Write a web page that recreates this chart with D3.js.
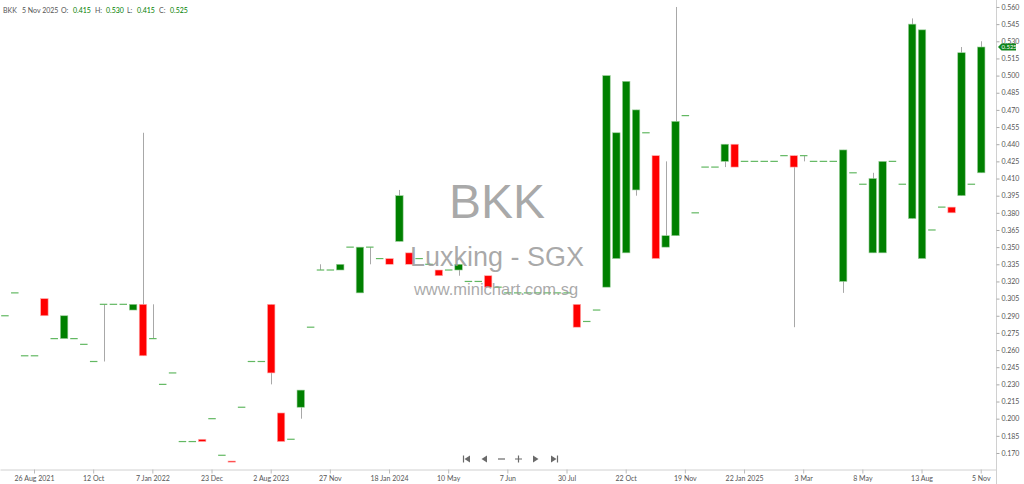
<!DOCTYPE html>
<html>
<head>
<meta charset="utf-8">
<script src="https://cdn.jsdelivr.net/npm/d3@7"></script>
<style>
  body { margin: 0; background: #fff; }
  svg { display: block; font-family: "Lato", "Liberation Sans", sans-serif; }
</style>
</head>
<body>
<div class="candle-chart"></div>
<script>
// one entry per traded session, oldest first
const dates = [
  "2021-08-10", "2021-08-16", "2021-08-20", "2021-08-26", "2021-09-01", "2021-09-08", "2021-09-15", "2021-09-22", "2021-10-04", "2021-10-12",
  "2021-10-21", "2021-11-03", "2021-11-17", "2021-12-02", "2021-12-20", "2022-01-07", "2022-02-14", "2022-03-22", "2022-05-11", "2022-07-06",
  "2022-09-13", "2022-12-23", "2023-02-15", "2023-04-10", "2023-06-05", "2023-07-12", "2023-07-25", "2023-08-02", "2023-08-16", "2023-09-04",
  "2023-09-21", "2023-10-10", "2023-10-30", "2023-11-27", "2023-12-07", "2023-12-19", "2023-12-28", "2024-01-05", "2024-01-11", "2024-01-18",
  "2024-01-26", "2024-02-07", "2024-02-26", "2024-03-14", "2024-04-02", "2024-05-10", "2024-05-15", "2024-05-21", "2024-05-24", "2024-05-29",
  "2024-06-03", "2024-06-07", "2024-06-13", "2024-06-19", "2024-06-26", "2024-07-04", "2024-07-15", "2024-07-30", "2024-08-13", "2024-08-27",
  "2024-09-10", "2024-09-26", "2024-10-01", "2024-10-22", "2024-10-28", "2024-11-01", "2024-11-06", "2024-11-11", "2024-11-14", "2024-11-19",
  "2024-11-27", "2024-12-05", "2024-12-16", "2024-12-30", "2025-01-09", "2025-01-22", "2025-01-31", "2025-02-10", "2025-02-18", "2025-02-25",
  "2025-02-28", "2025-03-03", "2025-03-14", "2025-03-27", "2025-04-09", "2025-04-22", "2025-04-30", "2025-05-08", "2025-05-20", "2025-06-04",
  "2025-06-18", "2025-07-03", "2025-07-22", "2025-08-13", "2025-08-28", "2025-09-15", "2025-09-30", "2025-10-14", "2025-10-24", "2025-11-05"
];

const opens = [
  0.29, 0.31, 0.255, 0.255, 0.305, 0.27, 0.27, 0.27, 0.265, 0.25,
  0.30, 0.30, 0.30, 0.295, 0.30, 0.27, 0.23, 0.24, 0.18, 0.18,
  0.182, 0.20, 0.168, 0.163, 0.21, 0.25, 0.25, 0.30, 0.205, 0.182,
  0.21, 0.28, 0.33, 0.33, 0.33, 0.35, 0.31, 0.35, 0.34, 0.34,
  0.355, 0.345, 0.34, 0.335, 0.33, 0.33, 0.33, 0.32, 0.32, 0.325,
  0.315, 0.31, 0.31, 0.31, 0.31, 0.31, 0.31, 0.31, 0.30, 0.285,
  0.295, 0.315, 0.34, 0.345, 0.40, 0.45, 0.43, 0.35, 0.36, 0.465,
  0.38, 0.42, 0.42, 0.425, 0.44, 0.425, 0.425, 0.425, 0.425, 0.43,
  0.43, 0.43, 0.425, 0.425, 0.425, 0.32, 0.415, 0.405, 0.345, 0.345,
  0.425, 0.405, 0.375, 0.34, 0.365, 0.385, 0.385, 0.395, 0.405, 0.415
];

const highs = [
  0.29, 0.31, 0.255, 0.255, 0.305, 0.27, 0.29, 0.27, 0.265, 0.25,
  0.30, 0.30, 0.30, 0.30, 0.45, 0.30, 0.23, 0.24, 0.18, 0.18,
  0.182, 0.20, 0.168, 0.163, 0.21, 0.25, 0.25, 0.30, 0.205, 0.182,
  0.225, 0.28, 0.335, 0.33, 0.335, 0.35, 0.35, 0.35, 0.34, 0.34,
  0.40, 0.345, 0.34, 0.335, 0.33, 0.33, 0.335, 0.32, 0.32, 0.325,
  0.315, 0.31, 0.31, 0.31, 0.31, 0.31, 0.31, 0.31, 0.30, 0.285,
  0.295, 0.50, 0.45, 0.495, 0.47, 0.45, 0.43, 0.425, 0.56, 0.465,
  0.38, 0.42, 0.42, 0.44, 0.44, 0.425, 0.425, 0.425, 0.425, 0.43,
  0.43, 0.43, 0.425, 0.425, 0.425, 0.435, 0.415, 0.405, 0.415, 0.425,
  0.425, 0.405, 0.55, 0.54, 0.365, 0.385, 0.385, 0.525, 0.405, 0.53
];

const lows = [
  0.29, 0.31, 0.255, 0.255, 0.29, 0.27, 0.27, 0.27, 0.265, 0.25,
  0.25, 0.30, 0.30, 0.295, 0.255, 0.27, 0.23, 0.24, 0.18, 0.18,
  0.18, 0.20, 0.168, 0.162, 0.21, 0.25, 0.25, 0.23, 0.18, 0.182,
  0.20, 0.28, 0.33, 0.33, 0.33, 0.35, 0.31, 0.335, 0.34, 0.335,
  0.355, 0.335, 0.34, 0.335, 0.325, 0.33, 0.325, 0.32, 0.32, 0.315,
  0.315, 0.31, 0.31, 0.31, 0.31, 0.31, 0.31, 0.31, 0.28, 0.285,
  0.295, 0.315, 0.34, 0.345, 0.395, 0.45, 0.34, 0.35, 0.36, 0.465,
  0.38, 0.42, 0.42, 0.42, 0.42, 0.425, 0.425, 0.425, 0.425, 0.43,
  0.28, 0.425, 0.425, 0.425, 0.425, 0.31, 0.415, 0.405, 0.345, 0.345,
  0.425, 0.405, 0.375, 0.34, 0.365, 0.385, 0.38, 0.395, 0.405, 0.415
];

const closes = [
  0.29, 0.31, 0.255, 0.255, 0.29, 0.27, 0.29, 0.27, 0.265, 0.25,
  0.30, 0.30, 0.30, 0.30, 0.255, 0.27, 0.23, 0.24, 0.18, 0.18,
  0.18, 0.20, 0.168, 0.162, 0.21, 0.25, 0.25, 0.24, 0.18, 0.182,
  0.225, 0.28, 0.33, 0.33, 0.335, 0.35, 0.35, 0.35, 0.34, 0.335,
  0.395, 0.335, 0.34, 0.335, 0.325, 0.33, 0.335, 0.32, 0.32, 0.315,
  0.315, 0.31, 0.31, 0.31, 0.31, 0.31, 0.31, 0.31, 0.28, 0.285,
  0.295, 0.50, 0.45, 0.495, 0.47, 0.45, 0.34, 0.36, 0.46, 0.465,
  0.38, 0.42, 0.42, 0.44, 0.42, 0.425, 0.425, 0.425, 0.425, 0.43,
  0.42, 0.43, 0.425, 0.425, 0.425, 0.435, 0.415, 0.405, 0.41, 0.425,
  0.425, 0.405, 0.545, 0.54, 0.365, 0.385, 0.38, 0.52, 0.405, 0.525
];

const xTickDates = [
  "2021-08-26", "2021-10-12", "2022-01-07", "2022-12-23", "2023-08-02", "2023-11-27",
  "2024-01-18", "2024-05-10", "2024-06-07", "2024-07-30", "2024-10-22", "2024-11-19",
  "2025-01-22", "2025-03-03", "2025-05-08", "2025-08-13", "2025-11-05"
];

const yTicks = [
  0.170, 0.185, 0.200, 0.215, 0.230, 0.245, 0.260, 0.275, 0.290, 0.305, 0.320, 0.335, 0.350, 0.365,
  0.380, 0.395, 0.410, 0.425, 0.440, 0.455, 0.470, 0.485, 0.500, 0.515, 0.530, 0.545, 0.560
];

const symbol = "BKK";
const companyName = "Luxking - SGX";
const siteName = "www.minichart.com.sg";

const width = 1024;
const height = 484;
const plotRight = 996;
const plotBottom = 469;

const up = "#008000";
const down = "#ff0000";
const dojiColor = "#62b862";
const wickColor = "#a8a8a8";
const axisColor = "#d0d0d0";
const labelColor = "#555";

const parse = d3.timeParse("%Y-%m-%d");
const fmt3 = d3.format(".3f");
const data = dates.map((d, i) => ({
  date: d, o: opens[i], h: highs[i], l: lows[i], c: closes[i]
}));

const svg = d3
  .select(".candle-chart")
  .append("svg")
  .attr("width", width)
  .attr("height", height);

// 100 sessions plus one empty slot on the right
const x = d3
  .scaleBand()
  .domain(dates)
  .range([0, plotRight])
  .paddingInner(0)
  .paddingOuter(0.5)
  .align(0);

const y = d3.scaleLinear().domain([0.156, 0.5661]).range([plotBottom, 0]);

const cx = d => x(d.date) + x.bandwidth() / 2;
const bodyW = x.bandwidth() * 0.76;

svg.append("line")
  .attr("x1", plotRight + 0.5).attr("x2", plotRight + 0.5)
  .attr("y1", 0).attr("y2", height)
  .attr("stroke", axisColor);

const yAxis = g =>
  g.attr("transform", `translate(${plotRight + 0.5},0)`)
    .call(d3.axisRight(y).tickValues(yTicks).tickFormat(fmt3).tickSize(3).tickPadding(2))
    .call(g => g.select(".domain").remove())
    .call(g => g.selectAll(".tick line").attr("stroke", "#aaa"))
    .call(g => g.selectAll(".tick text").attr("fill", labelColor).attr("font-size", 7).attr("font-family", "Lato"));

let prevYear = null;
const xFmt = d => {
  const dt = parse(d);
  const yr = dt.getFullYear();
  const s = yr !== prevYear ? d3.timeFormat("%-d %b %Y")(dt) : d3.timeFormat("%-d %b")(dt);
  prevYear = yr;
  return s;
};

const xAxis = g =>
  g.attr("transform", `translate(0,${plotBottom + 0.5})`)
    .call(d3.axisBottom(x).tickValues(xTickDates).tickFormat(xFmt).tickSize(4).tickSizeOuter(0).tickPadding(2.5))
    .call(g => g.select(".domain").attr("stroke", axisColor))
    .call(g => g.selectAll(".tick line").attr("stroke", "#bbb"))
    .call(g => g.selectAll(".tick text").attr("fill", labelColor).attr("font-size", 7).attr("font-family", "Lato"));

svg.append("g").call(yAxis);
svg.append("g").call(xAxis);

// candles
const candles = svg.append("g").selectAll("g").data(data).join("g");

candles.filter(d => d.h > Math.max(d.o, d.c) || d.l < Math.min(d.o, d.c))
  .append("line")
  .attr("x1", d => Math.round(cx(d)) + 0.5)
  .attr("x2", d => Math.round(cx(d)) + 0.5)
  .attr("y1", d => y(d.h))
  .attr("y2", d => y(d.l))
  .attr("stroke", wickColor)
  .attr("stroke-width", 1);

candles.filter(d => d.o !== d.c)
  .append("rect")
  .attr("x", d => cx(d) - bodyW / 2)
  .attr("y", d => y(Math.max(d.o, d.c)))
  .attr("width", bodyW)
  .attr("height", d => Math.max(1, Math.abs(y(d.o) - y(d.c))))
  .attr("fill", d => (d.c > d.o ? up : down))
  .attr("stroke", d => (d.c > d.o ? "#9ccf9c" : "#ffb0b0"))
  .attr("stroke-width", 0.6);

candles.filter(d => d.o === d.c)
  .append("line")
  .attr("x1", d => cx(d) - bodyW / 2)
  .attr("x2", d => cx(d) + bodyW / 2)
  .attr("y1", d => y(d.c))
  .attr("y2", d => y(d.c))
  .attr("stroke", dojiColor)
  .attr("stroke-width", 1.2);

// watermark, drawn over the candles
const mark = svg.append("g")
  .attr("font-family", "Liberation Sans, Arial, sans-serif")
  .attr("text-anchor", "middle")
  .attr("fill", "#9a9a9a")
  .attr("fill-opacity", 0.85);
mark.append("text").attr("x", 497).attr("y", 218).attr("font-size", 48).text(symbol);
mark.append("text").attr("x", 497).attr("y", 266).attr("font-size", 27).text(companyName);
mark.append("text").attr("x", 496).attr("y", 295).attr("font-size", 16.5).text(siteName);

// last price tag
const last = data[data.length - 1];
const ty = y(last.c);
svg.append("path")
  .attr("d", `M${plotRight + 2},${ty} L${plotRight + 5.5},${ty - 3.5} L${plotRight + 20},${ty - 3.5} L${plotRight + 20},${ty + 3.5} L${plotRight + 5.5},${ty + 3.5} Z`)
  .attr("fill", "#11861a");
svg.append("text")
  .attr("x", plotRight + 5.5)
  .attr("y", ty + 2.4)
  .attr("font-size", 6)
  .attr("font-family", "Lato")
  .attr("fill", "#fff")
  .text(fmt3(last.c));

// header
const header = svg.append("g").attr("font-size", 7).attr("font-family", "Lato");
const parts = [
  [symbol, labelColor, 3], [d3.timeFormat("%-d %b %Y")(parse(last.date)), labelColor, 22],
  ["O:", labelColor, 61], [fmt3(last.o), up, 73],
  ["H:", labelColor, 95], [fmt3(last.h), up, 106],
  ["L:", labelColor, 127], [fmt3(last.l), up, 137],
  ["C:", labelColor, 159], [fmt3(last.c), up, 170]
];
header.selectAll("text").data(parts).join("text")
  .attr("x", d => d[2])
  .attr("y", 13)
  .attr("fill", d => d[1])
  .text(d => d[0]);

// navigation buttons
const nav = svg.append("g").attr("fill", "#6a6a6a").attr("stroke", "#6a6a6a");
const ny = 459;
nav.append("path").attr("d", `M463.5,${ny - 3.5} V${ny + 3.5}`).attr("stroke-width", 1.2).attr("fill", "none");
nav.append("path").attr("d", `M464.5,${ny} L470,${ny - 3.5} L470,${ny + 3.5} Z`).attr("stroke", "none");
nav.append("path").attr("d", `M481.5,${ny} L487,${ny - 3.5} L487,${ny + 3.5} Z`).attr("stroke", "none");
nav.append("path").attr("d", `M498,${ny} H505`).attr("stroke-width", 1.2);
nav.append("path").attr("d", `M515,${ny} H522 M518.5,${ny - 3.5} V${ny + 3.5}`).attr("stroke-width", 1.2);
nav.append("path").attr("d", `M538.5,${ny} L533,${ny - 3.5} L533,${ny + 3.5} Z`).attr("stroke", "none");
nav.append("path").attr("d", `M556.5,${ny} L551,${ny - 3.5} L551,${ny + 3.5} Z`).attr("stroke", "none");
nav.append("path").attr("d", `M557.5,${ny - 3.5} V${ny + 3.5}`).attr("stroke-width", 1.2).attr("fill", "none");
</script>
</body>
</html>
